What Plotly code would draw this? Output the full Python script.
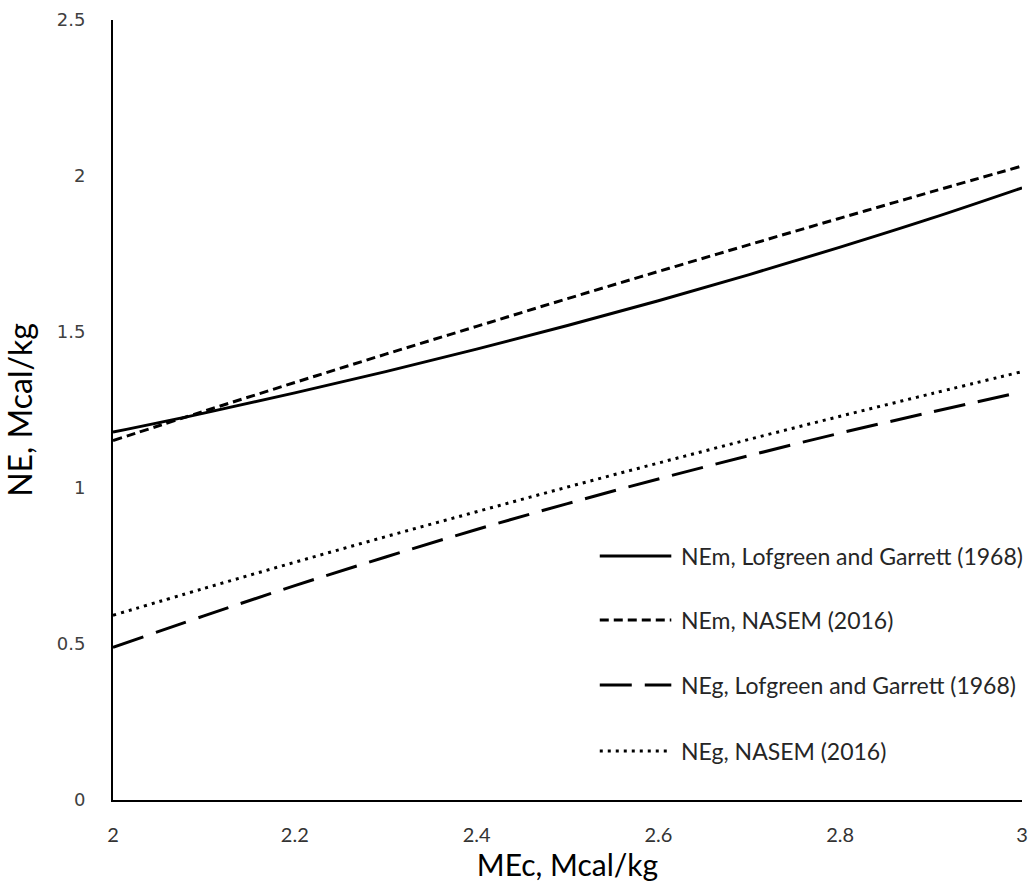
import plotly.graph_objects as go

mec = [2.0, 2.1, 2.2, 2.3, 2.4, 2.5, 2.6, 2.7, 2.8, 2.9, 3.0]
nem_lg = [1.179, 1.240, 1.305, 1.373, 1.445, 1.521, 1.600, 1.684, 1.772, 1.864, 1.962]
nem_nasem = [1.152, 1.246, 1.338, 1.429, 1.518, 1.607, 1.694, 1.780, 1.865, 1.949, 2.032]
neg_lg = [0.489, 0.590, 0.687, 0.779, 0.867, 0.950, 1.029, 1.104, 1.176, 1.243, 1.308]
neg_nasem = [0.592, 0.678, 0.762, 0.844, 0.924, 1.003, 1.080, 1.156, 1.230, 1.302, 1.373]

x_ticks = [2, 2.2, 2.4, 2.6, 2.8, 3]
y_ticks = [0, 0.5, 1, 1.5, 2, 2.5]

series_names = ["NEm, Lofgreen and Garrett (1968)", "NEm, NASEM (2016)",
                "NEg, Lofgreen and Garrett (1968)", "NEg, NASEM (2016)"]
series_values = [nem_lg, nem_nasem, neg_lg, neg_nasem]
series_dash = ["solid", "9px,5px", "32px,13px", "3px,5px"]

fig = go.Figure()
for name, vals, dash in zip(series_names, series_values, series_dash):
    fig.add_trace(go.Scatter(
        x=mec, y=vals, mode="lines", name=name, showlegend=False,
        line=dict(color="black", width=3, dash=dash, shape="spline"),
    ))

# Custom legend (long line samples like the reference)
leg_y = [0.3128, 0.2308, 0.1474, 0.0628]
for name, dash, yy in zip(series_names, series_dash, leg_y):
    fig.add_shape(type="line", xref="paper", yref="paper",
                  x0=0.5355, x1=0.6142, y0=yy, y1=yy,
                  line=dict(color="black", width=3, dash=dash))
    fig.add_annotation(xref="paper", yref="paper", x=0.623, y=yy,
                       xanchor="left", yanchor="middle", showarrow=False,
                       text=name,
                       font=dict(family="Lato, Open Sans, sans-serif", size=23, color="#262626"))

fig.update_layout(
    width=1035, height=890,
    margin=dict(l=113, r=7, t=20, b=90),
    paper_bgcolor="white", plot_bgcolor="white",
    showlegend=False,
    xaxis=dict(
        range=[2, 3], tickvals=x_ticks, ticktext=[f"{v:g}" for v in x_ticks],
        showgrid=False, zeroline=False, showline=True, linecolor="black", linewidth=2,
        ticks="", ticklabelstandoff=16,
        tickfont=dict(family="Liberation Sans Narrow, Lato, sans-serif", size=20, color="#333333"),
        title=dict(text="MEc, Mcal/kg", font=dict(family="Lato, Open Sans, sans-serif", size=30, color="black"), standoff=10),
    ),
    yaxis=dict(
        range=[0, 2.5], tickvals=y_ticks, ticktext=[f"{v:g}" for v in y_ticks],
        showgrid=False, zeroline=False, showline=True, linecolor="black", linewidth=2,
        ticks="", ticklabelstandoff=22,
        tickfont=dict(family="DejaVu Sans, sans-serif", size=18, color="#404040"),
        title=dict(text="NE, Mcal/kg", font=dict(family="Liberation Sans Narrow, Lato, sans-serif", size=32, color="black"), standoff=16),
    ),
)

fig.write_html("out.html")
